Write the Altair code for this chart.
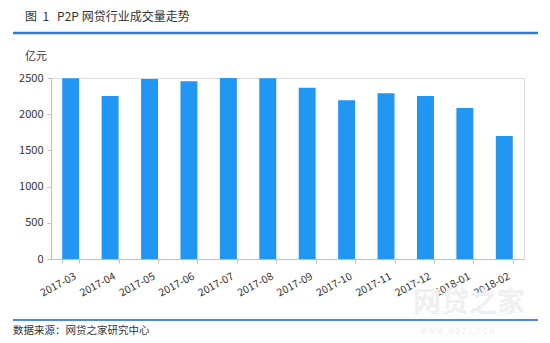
import altair as alt
import pandas as pd

months = ["2017-03", "2017-04", "2017-05", "2017-06", "2017-07", "2017-08",
          "2017-09", "2017-10", "2017-11", "2017-12", "2018-01", "2018-02"]
volume = [2497, 2251, 2486, 2456, 2500, 2497, 2366, 2192, 2289, 2251, 2086, 1699]

title_text = "图\u00a0\u00a01\u00a0\u00a0\u00a0P2P\u00a0网贷行业成交量走势"
unit_text = "亿元"
source_text = "数据来源：网贷之家研究中心"
wm_text = "网贷之家"
wm_url = "W W W .  W D Z J . C O M"

FONT = "Noto Sans CJK SC"
df = pd.DataFrame({"month": months, "volume": volume})
one = pd.DataFrame({"k": [0]})

bars = alt.Chart(df).mark_bar(color="#2196F3").encode(
    x=alt.X("month:N", sort=months, title=None,
            scale=alt.Scale(paddingInner=0.57, paddingOuter=0.285),
            axis=alt.Axis(labelAngle=-28, labelAlign="right", labelBaseline="top",
                          labelPadding=8, labelOffset=2, labelFontSize=10.5, labelColor="#333",
                          labelFont=FONT, tickBand="extent", tickSize=4,
                          tickColor="#bfbfbf", domainColor="#bfbfbf")),
    y=alt.Y("volume:Q", title=None,
            scale=alt.Scale(domain=[0, 2500], nice=False),
            axis=alt.Axis(values=[0, 500, 1000, 1500, 2000, 2500], grid=False,
                          format="d",
                          labelFontSize=11, labelColor="#333", labelFont=FONT,
                          tickSize=4, tickColor="#bfbfbf", domainColor="#bfbfbf",
                          labelPadding=4)),
)

def txt(text, x, y, size, color="#333", **kw):
    return alt.Chart(one).mark_text(text=text, align="left", baseline="middle",
                                    fontSize=size, color=color, font=FONT, **kw).encode(
        x=alt.value(x), y=alt.value(y))

def hline(x1, x2, y, color, w):
    return alt.Chart(one).mark_rule(color=color, strokeWidth=w).encode(
        x=alt.value(x1), x2=alt.value(x2), y=alt.value(y))

chart = alt.layer(
    txt(wm_text, 362, 226, 28, color="#f0f0f0", fontWeight="bold"),
    txt(wm_url, 370, 254, 7, color="#eeeeee"),
    bars,
    txt(title_text, -26, -61, 12),
    hline(-38, 487, -45, "#2E7BD6", 2.5),
    txt(unit_text, -26, -21, 11),
    hline(-38, 487, 242, "#1565C0", 1.5),
    txt(source_text, -38, 253, 10.5),
).properties(
    width=473, height=181,
    padding={"left": 43, "top": 70, "right": 18, "bottom": 77},
    autosize=alt.AutoSizeParams(type="none"),
).configure_view(stroke=None).configure(background="white")

chart.save("out.html", embed_options={"renderer": "svg", "actions": False})
